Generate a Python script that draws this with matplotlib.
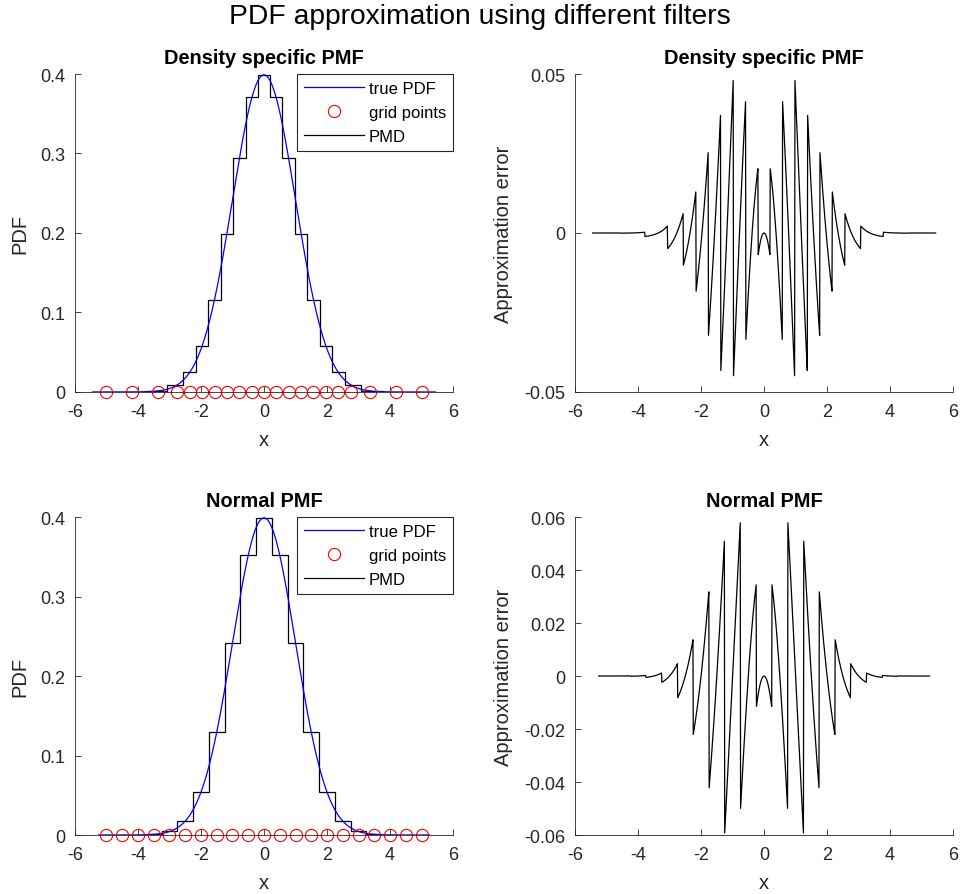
import numpy as np
import matplotlib
matplotlib.use("Agg")
import matplotlib.pyplot as plt
from matplotlib.ticker import FormatStrFormatter

plt.rcParams["font.family"] = ["Liberation Sans", "DejaVu Sans"]
plt.rcParams["axes.unicode_minus"] = False

# grid points
grid_density = [-5.03, -4.20, -3.36, -2.77, -2.35, -1.97, -1.57, -1.18, -0.78, -0.38, 0.0,
                0.38, 0.78, 1.18, 1.57, 1.97, 2.35, 2.77, 3.36, 4.20, 5.03]
grid_normal = [-5.0, -4.5, -4.0, -3.5, -3.0, -2.5, -2.0, -1.5, -1.0, -0.5, 0.0,
               0.5, 1.0, 1.5, 2.0, 2.5, 3.0, 3.5, 4.0, 4.5, 5.0]

titles = ["Density specific PMF", "Normal PMF"]
pdf_yticks = [0, 0.1, 0.2, 0.3, 0.4]
err_yticks = [[-0.05, 0, 0.05], [-0.06, -0.04, -0.02, 0, 0.02, 0.04, 0.06]]
x_ticks = [-6, -4, -2, 0, 2, 4, 6]

AX_COLOR = "#262626"


def true_pdf(x):
    return np.exp(-0.5 * np.asarray(x) ** 2) / np.sqrt(2 * np.pi)


def style(ax):
    for s in ("top", "right"):
        ax.spines[s].set_visible(False)
    for s in ("left", "bottom"):
        ax.spines[s].set_color(AX_COLOR)
        ax.spines[s].set_linewidth(0.6)
    ax.tick_params(direction="in", length=4, width=0.6, colors=AX_COLOR,
                   labelsize=13, labelcolor=AX_COLOR)
    ax.tick_params(axis="x", pad=8)
    ax.tick_params(axis="y", pad=7)
    ax.set_xlim(-6, 6)
    ax.set_xticks(x_ticks)
    ax.yaxis.set_major_formatter(FormatStrFormatter("%g"))
    ax.set_xlabel("x", fontsize=14.5, color=AX_COLOR, labelpad=7)


fig = plt.figure(figsize=(9.6, 8.95), dpi=100)
fig.suptitle("PDF approximation using different filters", fontsize=20.3, y=0.996)

bottoms = [0.5609, 0.0659]
for row, grid in enumerate([grid_density, grid_normal]):
    grid = np.array(grid)
    mids = (grid[1:] + grid[:-1]) / 2
    edges = np.concatenate([[grid[0] - (grid[1] - grid[0]) / 2], mids,
                            [grid[-1] + (grid[-1] - grid[-2]) / 2]])
    pmd = true_pdf(grid)

    xs = np.linspace(edges[0], edges[-1], 1001)
    idx = np.clip(np.searchsorted(edges, xs, side="right") - 1, 0, len(grid) - 1)
    err = true_pdf(xs) - pmd[idx]

    # left: pdf, grid points and piecewise-constant approximation
    ax = fig.add_axes([0.0781, bottoms[row], 0.3938, 0.3553])
    ax.plot(xs, true_pdf(xs), color="blue", lw=0.9, label="true PDF")
    ax.plot(grid, np.zeros_like(grid), "o", mfc="none", mec="red", ms=8.8, mew=0.8,
            clip_on=False, label="grid points")
    ax.stairs(pmd, edges, color="black", lw=0.9, baseline=None, label="PMD")
    style(ax)
    ax.set_ylim(0, 0.4)
    ax.set_yticks(pdf_yticks)
    ax.set_ylabel("PDF", fontsize=14.5, color=AX_COLOR, labelpad=8)
    ax.set_title(titles[row], fontsize=14.4, fontweight="bold", pad=8)
    leg = ax.legend(loc="upper right", fontsize=12, fancybox=False, framealpha=1,
                    edgecolor=AX_COLOR, borderpad=0.4, labelspacing=0.55,
                    handlelength=3.6, handletextpad=0.3, borderaxespad=0.0)
    leg.get_frame().set_linewidth(0.8)

    # right: approximation error
    ax2 = fig.add_axes([0.599, bottoms[row], 0.3938, 0.3553])
    ax2.plot(xs, err, color="black", lw=0.9)
    style(ax2)
    ax2.set_ylim(err_yticks[row][0], err_yticks[row][-1])
    ax2.set_yticks(err_yticks[row])
    ax2.set_ylabel("Approximation error", fontsize=14.5, color=AX_COLOR, labelpad=8)
    ax2.set_title(titles[row], fontsize=14.4, fontweight="bold", pad=8)

fig.savefig("out.png", dpi=100)
